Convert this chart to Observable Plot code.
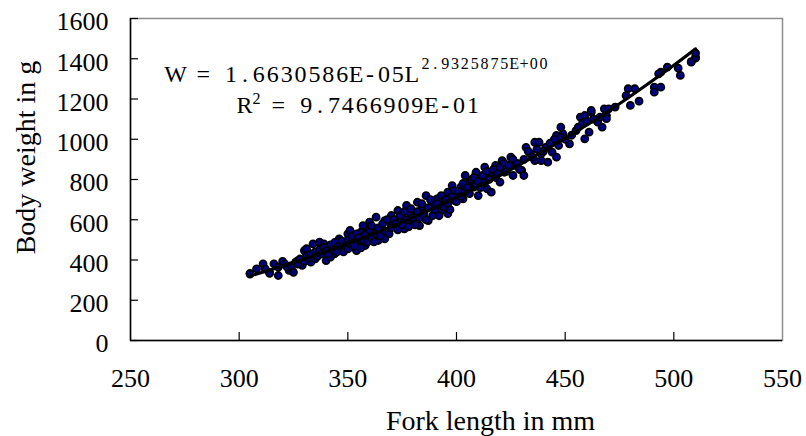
<!DOCTYPE html>
<html>
<head>
<meta charset="utf-8">
<script src="https://cdn.jsdelivr.net/npm/d3@7"></script>
<script src="https://cdn.jsdelivr.net/npm/@observablehq/plot@0.6"></script>
<style>
  html, body { margin: 0; padding: 0; background: white; }
  #chart svg { display: block; }
</style>
</head>
<body>
<div id="chart"></div>
<script>
const xTicks = [250, 300, 350, 400, 450, 500, 550];
const yTicks = [0, 200, 400, 600, 800, 1000, 1200, 1400, 1600];
const xLabel = "Fork length in mm";
const yLabel = "Body weight in g";
const eqMain = "W = 1.6630586E-05L";
const eqExp = "2.9325875E+00";
const r2Base = "R";
const r2Exp = "2";
const r2Tail = " = 9.7466909E-01";

// Fork length (mm) of each fish
const lengths = [
  305,305,308,311,312,314,314,316,318,318,320,321,323,324,325,326,327,329,330,331,
  333,334,335,337,339,340,341,342,344,345,346,347,349,350,351,352,353,354,355,356,
  357,358,359,354,357,358,360,362,363,364,367,367,370,370,373,374,376,377,379,380,
  382,383,384,386,387,389,391,393,394,396,396,398,399,400,402,403,404,406,408,409,
  410,412,413,414,409,408,413,416,416,418,420,421,422,425,426,427,430,431,432,434,
  436,436,438,439,439,441,442,444,446,446,447,448,449,452,455,457,459,459,461,462,
  465,467,469,462,468,469,470,473,478,479,480,482,484,491,491,494,494,497,502,503,
  508,510,508,510,510,493,
  322,324,327,328,330,331,332,333,335,336,337,338,339,340,341,342,343,344,345,346,
  347,348,349,350,350,351,352,353,354,355,356,357,358,359,360,361,361,362,363,364,
  365,366,367,368,369,370,371,372,373,374,375,376,377,378,379,380,381,382,383,384,
  385,386,387,388,389,390,391,392,393,394,395,396,397,398,399,400,401,402,403,404,
  405,406,407,408,409,410,411,412,413,414,415,417,418,419,420,422,423,424,426,428,
  429,431,433,435,437,440,443,445,448,450,453,456,458,460,463,466
];
// Body weight (g) of each fish, same order
const weights = [
  334,330,356,381,356,339,334,381,364,323,393,381,348,356,339,389,397,373,447,456,
  389,480,406,489,480,397,464,414,431,464,505,456,489,530,547,464,505,447,489,538,
  480,563,513,497,571,472,588,547,613,497,596,505,621,571,646,605,555,671,630,588,
  687,571,654,720,596,679,704,646,696,737,630,770,696,720,762,704,820,787,762,828,
  720,795,861,754,836,787,811,828,737,870,787,894,836,911,820,870,845,820,960,928,
  985,894,985,928,894,960,886,936,911,1019,969,1060,1027,977,1043,1110,1002,1118,1035,1134,
  1085,1060,1118,1143,1151,1102,1151,1160,1217,1251,1168,1251,1189,1259,1234,1259,1333,1358,1353,1317,
  1386,1403,1383,1408,1428,1325,
  366,372,380,405,392,420,410,430,440,418,452,430,462,445,430,475,450,488,440,470,
  495,440,470,455,500,480,520,470,530,510,460,500,525,490,550,510,570,490,530,560,
  520,580,545,600,530,560,600,580,550,620,575,640,600,565,655,610,575,640,610,680,
  630,600,660,700,620,650,680,620,720,665,700,680,650,720,745,690,740,715,780,740,
  760,730,800,810,770,790,760,820,785,840,800,850,810,830,860,880,840,870,900,880,
  850,900,940,910,950,940,980,1000,1010,1000,1020,1060,1080,1090,1100,1110
];

// Fitted curve values
const fitLengths = [305, 325, 350, 375, 400, 425, 450, 475, 500, 510];
const fitWeights = [320.9, 386.5, 480.3, 588.1, 710.7, 849.0, 1003.8, 1176.5, 1367.4, 1449.2];

const fish = lengths.map((L, i) => ({L, W: weights[i]}));
const fit = fitLengths.map((L, i) => ({L, W: fitWeights[i]}));

const W = 806, H = 436;
const mL = 130, mR = 24, mT = 18, mB = 96;
const innerW = W - mL - mR, innerH = H - mT - mB;
const tickLen = 8;
const serif = "'Liberation Serif', 'Times New Roman', serif";

const chart = Plot.plot({
  width: W,
  height: H,
  marginLeft: mL,
  marginRight: mR,
  marginTop: mT,
  marginBottom: mB,
  style: {fontFamily: serif, fontSize: "26px", background: "white", color: "black", overflow: "visible"},
  x: {domain: [xTicks[0], xTicks[xTicks.length - 1]]},
  y: {domain: [yTicks[0], yTicks[yTicks.length - 1]]},
  marks: [
    Plot.frame({stroke: "#8c8c8c", strokeWidth: 1.5}),
    Plot.ruleX([xTicks[0]], {stroke: "black", strokeWidth: 1.5}),
    Plot.ruleY([yTicks[0]], {stroke: "black", strokeWidth: 1.5}),
    Plot.tickY(yTicks, {y: d => d, insetRight: innerW - tickLen, stroke: "black", strokeWidth: 1.2}),
    Plot.tickX(xTicks.slice(1, -1), {x: d => d, insetTop: innerH - tickLen, stroke: "black", strokeWidth: 1.2}),
    Plot.axisX(xTicks, {tickSize: 0, tickPadding: 28, label: null, fill: "black", tickFormat: d => String(d), fontFamily: serif, fontSize: 26, fontVariant: "normal"}),
    Plot.axisY(yTicks, {tickSize: 0, tickPadding: 22, dy: 3.5, label: null, fill: "black", tickFormat: d => String(d), fontFamily: serif, fontSize: 26, fontVariant: "normal"}),
    Plot.dot(fish, {x: "L", y: "W", r: 3.6, fill: "#00007f", stroke: "black", strokeWidth: 1.6}),
    Plot.line(fit, {x: "L", y: "W", curve: "natural", stroke: "black", strokeWidth: 3.2}),
    Plot.text([xLabel], {text: d => d, frameAnchor: "bottom", dx: 34, dy: 81, textAnchor: "middle", lineAnchor: "middle", fontSize: 28, fill: "black"}),
    Plot.text([yLabel], {text: d => d, frameAnchor: "left", dx: -104, dy: -22, rotate: -90, textAnchor: "middle", lineAnchor: "middle", fontSize: 28, fill: "black"}),
    Plot.text([eqMain], {text: d => d, frameAnchor: "top-left", dx: 38, dy: 56.3, textAnchor: "start", lineAnchor: "middle", fontSize: 24, fill: "black"}),
    Plot.text([eqExp], {text: d => d, frameAnchor: "top-left", dx: 290, dy: 44.9, textAnchor: "start", lineAnchor: "middle", fontSize: 16, fill: "black"}),
    Plot.text([r2Base], {text: d => d, frameAnchor: "top-left", dx: 107, dy: 87.3, textAnchor: "start", lineAnchor: "middle", fontSize: 24, fill: "black"}),
    Plot.text([r2Exp], {text: d => d, frameAnchor: "top-left", dx: 121, dy: 79.9, textAnchor: "start", lineAnchor: "middle", fontSize: 16, fill: "black"}),
    Plot.text([r2Tail], {text: d => d, frameAnchor: "top-left", dx: 127, dy: 87.3, textAnchor: "start", lineAnchor: "middle", fontSize: 24, fill: "black"})
  ]
});

// Force serif on every text, and lay out the equation texts on a fixed-width character grid
const cells = new Map([[eqMain, 13.9], [eqExp, 9.85], [r2Base, 13.9], [r2Exp, 9.85], [r2Tail, 13.9]]);
d3.select(chart).selectAll("text").each(function() {
  this.style.fontFamily = serif;
  const t = this.textContent;
  if (cells.has(t) && !this.querySelector("tspan")) {
    const step = cells.get(t);
    const x0 = parseFloat(this.getAttribute("x")) || 0;
    const xs = Array.from(t, (c, i) => (x0 + step / 2 + i * step).toFixed(2));
    this.setAttribute("x", xs.join(" "));
    this.setAttribute("text-anchor", "middle");
    this.style.whiteSpace = "pre";
  }
});

document.getElementById("chart").appendChild(chart);
</script>
</body>
</html>
